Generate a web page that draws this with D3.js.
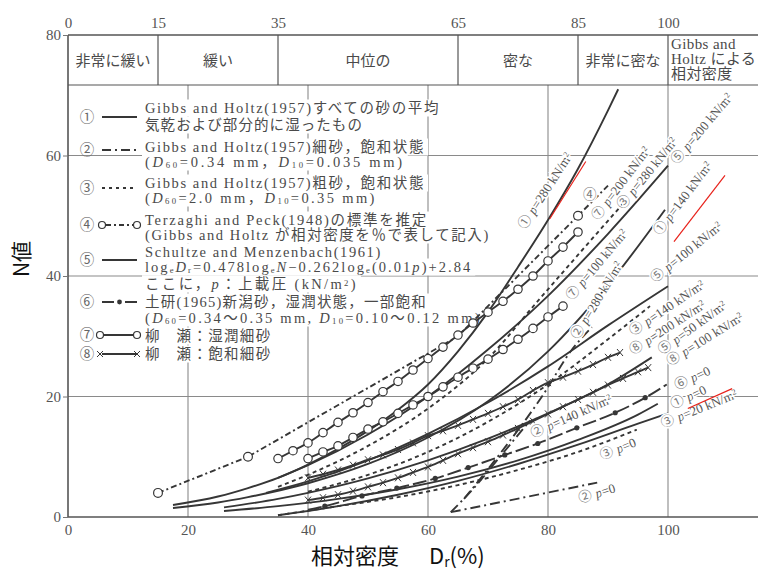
<!DOCTYPE html>
<html><head><meta charset="utf-8">
<script src="https://cdn.jsdelivr.net/npm/d3@7"></script>
<style>body{margin:0;background:#fff}svg{display:block}</style>
</head><body><svg id="chart" width="758" height="571"></svg>
<script>
// ---- axis ticks and density classes ----
const drTicksBottom = [0, 20, 40, 60, 80, 100];
const drTicksTop = [0, 15, 35, 65, 85, 100];
const nTicks = [0, 20, 40, 60, 80];
const classBounds = [0, 15, 35, 65, 85, 100];
const classNames = ["非常に緩い", "緩い", "中位の", "密な", "非常に密な"];
const extraColumn = ["Gibbs and", "Holtz による", "相対密度"];

// ---- curves: [Dr (%), N] ----
// (1) Gibbs and Holtz, all sands
const gibbsAll280 = [[17.5,2],[25,3.4],[30,4.8],[35,6.5],[40,8.7],[45,11.3],[50,14.3],[55,17.8],[60,22],[65,27.5],[70,34],[75,41.5],[80,49.3],[85,57.8],[90,67.5],[91.7,71]];
const gibbsAll140 = [[17.5,1.5],[25,2.4],[30,3.3],[40,5.6],[50,8.8],[60,13.2],[70,19.2],[80,27.5],[90,38.5],[99.5,51]];
const gibbsAll0 = [[26,1],[35,1.8],[45,3],[55,4.6],[65,6.7],[75,9.4],[85,12.8],[95,17],[98.3,18.8]];
const coarse20 = [[35,0.3],[45,1.8],[55,3.7],[65,6],[75,8.8],[85,12],[95,15.5],[100,17.2]];
// (5) Schultze and Menzenbach
const schultze200 = [[35,6.5],[40,8.6],[50,13.7],[60,20],[70,27.8],[80,36.7],[90,47],[100,58.3]];
const schultze100 = [[33,4],[40,5.9],[50,9.4],[60,13.8],[70,19],[80,25],[90,31.8],[100,38.3]];
const schultze50 = [[26,1.6],[35,3],[40,4],[50,6.4],[60,9.4],[70,13],[80,17.2],[90,22],[97.3,26.5]];
// (3) coarse sand, saturated
const coarse280 = [[35,5],[40,7],[50,11.8],[60,18],[70,26.3],[78,35.5],[85,43.5],[92.5,52]];
const coarse140 = [[40,4.2],[50,7],[60,10.8],[70,15.8],[80,22],[90,29.5],[97,35]];
const coarse0 = [[35,0.3],[45,1.8],[55,3.3],[65,5.3],[75,7.8],[85,10.8],[94.8,14.5]];
// (2) fine sand, saturated
const fine280 = [[66,3],[72,10.5],[79,20],[84,27.8],[87.3,31.5]];
const fine140 = [[63.8,0.8],[68,5.2],[72,10],[77,16]];
const fine0 = [[63.8,0.8],[88.2,5.7]];
// (4) Terzaghi and Peck
const terzaghi = [[15,4],[30,10],[65,30],[85,50],[90,55]];
const terzaghiMarks = [[15,4],[30,10],[85,50]];
// (6) Doken, Niigata sand
const doken0 = [[40,1.2],[42.8,1.8],[49,3.5],[54.8,4.8],[61.2,6.4],[66.7,8.2],[72.8,10.3],[78.3,12.2],[84.8,14.8],[91.2,17.3],[96.2,19.8],[99.8,22]];
// (7) Yanase, moist fine sand
const yanaseWet200 = [[35,9.7],[37.5,11],[40,12.3],[42.5,14],[45,15.7],[47.5,17.3],[50,19],[52.5,20.8],[55,22.5],[57.5,24.4],[60,26.3],[62.5,28.2],[65,30.2],[67.5,32.2],[70,34],[72.5,35.8],[75,37.8],[77.5,40],[80,42.5],[82.5,44.8],[85,47.3]];
const yanaseWet100 = [[40,9.7],[42.5,10.8],[45,11.8],[47.5,13.2],[50,14.6],[52.5,15.8],[55,17.2],[57.5,18.6],[60,20],[62.5,21.6],[65,23.2],[67.5,24.7],[70,26.2],[72.5,27.8],[75,29.5],[77.5,31.3],[80,33.2],[82.5,35]];
// (8) Yanase, saturated fine sand
const yanaseSat200 = [[40,6.5],[42.5,7.1],[45,7.8],[47.5,8.6],[50,9.5],[52.5,10.3],[55,11.2],[57.5,12.3],[60,13.5],[62.5,14.3],[65,15.2],[67.5,16.2],[70,17.2],[72.5,18.3],[75,19.5],[77.5,21],[80,22.3],[82.5,23.2],[85,24.2],[87.5,25.3],[90,26.5],[92,27.3]];
const yanaseSat100 = [[40,2.8],[42.5,3.2],[45,3.7],[47.5,4.3],[50,5],[52.5,5.7],[55,6.5],[57.5,7.4],[60,8.3],[62.5,9.4],[65,10.5],[67.5,11.5],[70,12.5],[72.5,13.6],[75,14.7],[77.5,15.9],[80,17.1],[82.5,18.3],[85,19.5],[87.5,20.7],[90,21.9],[92.5,23],[95,24.1],[96.7,24.8]];
// red hand-drawn strokes, in data units
const redStrokes = [[[80.3,49.5],[86.3,59]], [[101,45.7],[109.5,56.7]], [[103.3,18],[110.7,21.3]]];

// ---- layout ----
const svg = d3.select("#chart");
const W = 758, H = 571;
const x = d3.scaleLinear().domain([0, 100]).range([68, 668]);
const y = d3.scaleLinear().domain([0, 80]).range([517, 35]);
const xEnd = 115, headerBottom = 71.7;
const ink = "#363636", grid = "#8a8a8a", txt = "#4a4a4a";
const serif = "'Liberation Serif','Noto Sans CJK JP',serif";
const cjk = "'Noto Sans CJK JP','Liberation Serif',sans-serif";

svg.append("rect").attr("width", W).attr("height", H).attr("fill", "#fff");

const gGrid = svg.append("g");
gGrid.selectAll("line.v").data([20, 40, 60, 80, 100]).join("line")
  .attr("x1", d => x(d)).attr("x2", d => x(d))
  .attr("y1", y(headerBottom)).attr("y2", y(0))
  .attr("stroke", grid).attr("stroke-width", 1.1);
gGrid.selectAll("line.h").data([20, 40, 60]).join("line")
  .attr("x1", x(0)).attr("x2", x(xEnd))
  .attr("y1", d => y(d)).attr("y2", d => y(d))
  .attr("stroke", grid).attr("stroke-width", 1.1);

// frame and class header
const gFrame = svg.append("g").attr("stroke", "#555").attr("fill", "none");
gFrame.append("line").attr("x1", x(0)).attr("x2", x(0)).attr("y1", y(80)).attr("y2", y(0)).attr("stroke-width", 1.6);
gFrame.append("line").attr("x1", x(0)).attr("x2", x(xEnd)).attr("y1", y(0)).attr("y2", y(0)).attr("stroke-width", 1.6);
gFrame.append("line").attr("x1", x(0)).attr("x2", x(xEnd)).attr("y1", y(80)).attr("y2", y(80)).attr("stroke-width", 1.6);
gFrame.append("line").attr("x1", x(0)).attr("x2", x(xEnd)).attr("y1", y(headerBottom)).attr("y2", y(headerBottom)).attr("stroke-width", 1.2);
gFrame.selectAll("line.div").data(classBounds.slice(1)).join("line")
  .attr("x1", d => x(d)).attr("x2", d => x(d))
  .attr("y1", y(80)).attr("y2", y(headerBottom)).attr("stroke-width", 1.2);

const hy = (y(80) + y(headerBottom)) / 2;
svg.append("g").selectAll("text").data(classNames).join("text")
  .attr("x", (d, i) => (x(classBounds[i]) + x(classBounds[i + 1])) / 2)
  .attr("y", hy + 5.5).attr("text-anchor", "middle")
  .attr("font-family", cjk).attr("font-size", 15).attr("fill", txt).text(d => d);
svg.append("g").selectAll("text").data(extraColumn).join("text")
  .attr("x", x(100) + 3).attr("y", (d, i) => y(80) + 14 + i * 15)
  .attr("font-family", serif).attr("font-size", 15).attr("letter-spacing", 0.4).attr("fill", txt).text(d => d);

// axes
const axisFont = g => g.selectAll("text").attr("font-family", serif).attr("font-size", 15).attr("fill", "#555");
svg.append("g").attr("transform", `translate(0,${y(0) + 4})`)
  .call(d3.axisBottom(x).tickValues(drTicksBottom).tickSize(0).tickPadding(3))
  .call(g => g.select(".domain").remove()).call(axisFont);
svg.append("g").attr("transform", `translate(0,${y(80) - 5})`)
  .call(d3.axisTop(x).tickValues(drTicksTop).tickSize(0).tickPadding(2))
  .call(g => g.select(".domain").remove()).call(axisFont);
svg.append("g").attr("transform", `translate(${x(0)},0)`)
  .call(d3.axisLeft(y).tickValues(nTicks).tickSize(5).tickPadding(2))
  .call(g => g.select(".domain").remove())
  .call(g => g.selectAll("line").attr("stroke", "#777"))
  .call(axisFont);

// axis titles
svg.append("text").attr("transform", "translate(29,259) rotate(-90)").attr("text-anchor", "middle")
  .attr("font-family", "'Noto Sans CJK JP',sans-serif").attr("font-size", 21).attr("fill", "#111").text("N値");
const xt = svg.append("text").attr("y", 564)
  .attr("font-family", "'Noto Sans CJK JP',sans-serif").attr("font-size", 22).attr("fill", "#111");
xt.append("tspan").attr("x", 311).text("相対密度");
xt.append("tspan").attr("x", 429).text("D");
xt.append("tspan").attr("font-size", 14).attr("dy", 2.5).text("r");
xt.append("tspan").attr("dy", -2.5).text("(%)");

// ---- legend ----
// each text line: [centre y, right end x, rich text parts]
const legend = [
  {num: "①", cy: 117, sym: "solid", lines: [[108, 440, ["Gibbs and Holtz(1957)すべての砂の平均"]], [125, 363, ["気乾および部分的に湿ったもの"]]]},
  {num: "②", cy: 150, sym: "dashdot", lines: [[147, 425, ["Gibbs and Holtz(1957)細砂，飽和状態"]], [162, 405, ["(", ["D","i"], ["60","sub"], "=0.34 mm，", ["D","i"], ["10","sub"], "=0.035 mm)"]]]},
  {num: "③", cy: 188, sym: "dotted", lines: [[183, 425, ["Gibbs and Holtz(1957)粗砂，飽和状態"]], [198, 377, ["(", ["D","i"], ["60","sub"], "=2.0 mm，", ["D","i"], ["10","sub"], "=0.35 mm)"]]]},
  {num: "④", cy: 225, sym: "terzaghi", lines: [[220, 428, ["Terzaghi and Peck(1948)の標準を推定"]], [235, 490, ["(Gibbs and Holtz が相対密度を％で表して記入)"]]]},
  {num: "⑤", cy: 260, sym: "solid", lines: [[252, 382, ["Schultze and Menzenbach(1961)"]], [267, 473, ["log", ["e","sub"], ["D","i"], ["r","sub"], "=0.478log", ["e","sub"], ["N","i"], "−0.262log", ["e","sub"], "(0.01", ["p","i"], ")+2.84"]], [284, 358, ["ここに，", ["p","i"], "：上載圧 (kN/m", ["2","sup"], ")"]]]},
  {num: "⑥", cy: 302, sym: "dot", lines: [[302, 427, ["土研(1965)新潟砂，湿潤状態，一部飽和"]], [318, 482, ["(", ["D","i"], ["60","sub"], "=0.34〜0.35 mm, ", ["D","i"], ["10","sub"], "=0.10〜0.12 mm)"]]]},
  {num: "⑦", cy: 335, sym: "circle", lines: [[336, 272, ["柳　瀬：湿潤細砂"]]]},
  {num: "⑧", cy: 354, sym: "cross", lines: [[354, 272, ["柳　瀬：飽和細砂"]]]}
];

function richText(sel, parts, size) {
  parts.forEach(p => {
    if (typeof p === "string") { sel.append("tspan").text(p); return; }
    const [s, k] = p;
    const t = sel.append("tspan").text(s);
    if (k === "i") t.attr("font-style", "italic");
    if (k === "sub") t.attr("font-size", size * 0.6).attr("baseline-shift", "-12%");
    if (k === "sup") t.attr("font-size", size * 0.6).attr("baseline-shift", "35%");
  });
}

const gLegBg = svg.append("g");
const gLeg = svg.append("g");
const lgSize = 14.5, lgX = 145;
legend.forEach(e => {
  e.lines.forEach(([cy, xr, parts]) => {
    const t = gLeg.append("text").attr("x", lgX).attr("y", cy + 5)
      .attr("font-family", serif).attr("font-size", lgSize).attr("fill", txt);
    richText(t, parts, lgSize);
    // spread glyphs so the line ends where the typeset line ends
    const w0 = t.node().getBBox().width;
    const n = t.text().length;
    t.attr("letter-spacing", Math.max(0, (xr - lgX - w0) / n));
    const b = t.node().getBBox();
    gLegBg.append("rect").attr("x", b.x - 3).attr("y", cy - 8.5).attr("width", b.width + 6).attr("height", 17).attr("fill", "#fff");
  });
  gLeg.append("text").attr("x", 87).attr("y", e.cy + 5).attr("text-anchor", "middle")
    .attr("font-family", cjk).attr("font-size", 14.5).attr("fill", "#666").text(e.num);
  const sy = e.cy, x0 = 102, x1 = 137;
  const seg = gLeg.append("g").attr("stroke", ink).attr("stroke-width", 2).attr("fill", "none");
  if (e.sym === "solid") seg.append("line").attr("x1", x0).attr("x2", x1).attr("y1", sy).attr("y2", sy);
  if (e.sym === "dashdot") seg.append("line").attr("x1", x0).attr("x2", x1).attr("y1", sy).attr("y2", sy).attr("stroke-dasharray", "9,4,2,4");
  if (e.sym === "dotted") seg.append("line").attr("x1", x0).attr("x2", x1).attr("y1", sy).attr("y2", sy).attr("stroke-dasharray", "3,4");
  if (e.sym === "terzaghi") {
    seg.append("line").attr("x1", x0 + 4).attr("x2", x1 - 4).attr("y1", sy).attr("y2", sy).attr("stroke-dasharray", "5,3,2,3");
    seg.selectAll("circle").data([x0, x1]).join("circle").attr("cx", d => d).attr("cy", sy).attr("r", 3.5).attr("fill", "#fff").attr("stroke-width", 1.2);
  }
  if (e.sym === "dot") {
    seg.append("line").attr("x1", x0).attr("x2", x1).attr("y1", sy).attr("y2", sy).attr("stroke-dasharray", "12,11");
    seg.append("circle").attr("cx", (x0 + x1) / 2).attr("cy", sy).attr("r", 2.4).attr("fill", ink).attr("stroke", "none");
  }
  if (e.sym === "circle") {
    seg.append("line").attr("x1", x0).attr("x2", x1).attr("y1", sy).attr("y2", sy);
    seg.selectAll("circle").data([x0 - 2, x1]).join("circle").attr("cx", d => d).attr("cy", sy).attr("r", 3.5).attr("fill", "#fff").attr("stroke-width", 1.2);
  }
  if (e.sym === "cross") {
    seg.append("line").attr("x1", x0).attr("x2", x1).attr("y1", sy).attr("y2", sy);
    [x0 - 2, x1].forEach(cx => seg.append("path").attr("d", `M${cx-3},${sy-3}L${cx+3},${sy+3}M${cx-3},${sy+3}L${cx+3},${sy-3}`).attr("stroke-width", 1));
  }
});

// ---- curves ----
const line = d3.line().x(d => x(d[0])).y(d => y(d[1])).curve(d3.curveMonotoneX);
const straight = d3.line().x(d => x(d[0])).y(d => y(d[1]));
const dash = {solid: null, dashdot: "10,4,2,4", dotted: "4,3.5", tp: "6,3,2,3", dk: "14,4"};
const curves = [
  [gibbsAll280, "solid"], [gibbsAll140, "solid"], [gibbsAll0, "solid"], [coarse20, "solid"],
  [schultze200, "solid"], [schultze100, "solid"], [schultze50, "solid"],
  [coarse280, "dotted"], [coarse140, "dotted"], [coarse0, "dotted"],
  [fine280, "dashdot"], [fine140, "dashdot"], [fine0, "dashdot"],
  [doken0, "dk"], [yanaseWet200, "solid"], [yanaseWet100, "solid"],
  [yanaseSat200, "solid"], [yanaseSat100, "solid"]
];
const gCurves = svg.append("g").attr("fill", "none").attr("stroke", ink).attr("stroke-width", 1.9);
curves.forEach(([data, style]) => {
  gCurves.append("path").attr("d", line(data)).attr("stroke-dasharray", dash[style]);
});
gCurves.append("path").attr("d", straight(terzaghi)).attr("stroke-dasharray", dash.tp);

const gMarks = svg.append("g").attr("stroke", ink);
[yanaseWet200, yanaseWet100].forEach(data => {
  gMarks.append("g").selectAll("circle").data(data).join("circle")
    .attr("cx", d => x(d[0])).attr("cy", d => y(d[1])).attr("r", 4.2).attr("fill", "#fff").attr("stroke-width", 1.2);
});
gMarks.append("g").selectAll("circle").data(terzaghiMarks).join("circle")
  .attr("cx", d => x(d[0])).attr("cy", d => y(d[1])).attr("r", 4.4).attr("fill", "#fff").attr("stroke-width", 1.2);
gMarks.append("g").selectAll("circle").data(doken0.slice(1, -1)).join("circle")
  .attr("cx", d => x(d[0])).attr("cy", d => y(d[1])).attr("r", 2.6).attr("fill", ink).attr("stroke", "none");
[yanaseSat200, yanaseSat100].forEach(data => {
  gMarks.append("g").selectAll("path").data(data).join("path")
    .attr("d", d => { const cx = x(d[0]), cy = y(d[1]); return `M${cx-3},${cy-3.5}L${cx+3},${cy+3.5}M${cx-3},${cy+3.5}L${cx+3},${cy-3.5}`; })
    .attr("stroke-width", 1).attr("fill", "none");
});

// ---- curve labels: circled series number, overburden pressure, anchor (px), angle ----
const curveLabels = [
  ["①", "p=280 kN/m²", 525, 230, -57], ["④", "", 583, 199, 0], ["⑦", "p=200 kN/m²", 598, 221, -53],
  ["③", "p=280 kN/m²", 623, 210, -51], ["⑤", "p=200 kN/m²", 677, 165, -50], ["①", "p=140 kN/m²", 660, 236, -53],
  ["⑦", "p=100 kN/m²", 572, 301, -50], ["⑤", "p=100 kN/m²", 655, 283, -39], ["②", "p=280 kN/m²", 578, 340, -59],
  ["③", "p=140 kN/m²", 633, 336, -34], ["⑧", "p=200 kN/m²", 633, 355, -33], ["⑤", "p=50 kN/m²", 662, 355, -36],
  ["⑧", "p=100 kN/m²", 670, 366, -32], ["⑥", "p=0", 677, 390, -25], ["①", "p=0", 673, 409, -25],
  ["③", "p=20 kN/m²", 663, 428, -22], ["②", "p=140 kN/m²", 533, 438, -24], ["③", "p=0", 602, 460, -22],
  ["②", "p=0", 580, 503, -17]
];
const gLab = svg.append("g");
curveLabels.forEach(([num, txtp, px, py, ang]) => {
  const t = gLab.append("text").attr("transform", `translate(${px},${py}) rotate(${ang})`)
    .attr("font-family", serif).attr("font-size", 13).attr("fill", "#555")
    .attr("stroke", "#fff").attr("stroke-width", 3).attr("paint-order", "stroke");
  t.append("tspan").attr("font-family", cjk).attr("font-size", 13.5).attr("fill", "#777").text(num);
  if (txtp) {
    const m = txtp.match(/^p(=.*?)(²?)$/);
    t.append("tspan").attr("dx", 4).attr("font-style", "italic").text("p");
    t.append("tspan").text(m[1]);
    if (m[2]) t.append("tspan").attr("font-size", 8).attr("baseline-shift", "45%").text("2");
  }
});

// red strokes
svg.append("g").selectAll("path").data(redStrokes).join("path")
  .attr("d", straight).attr("stroke", "#e8211a").attr("stroke-width", 1.2).attr("fill", "none");
</script></body></html>
